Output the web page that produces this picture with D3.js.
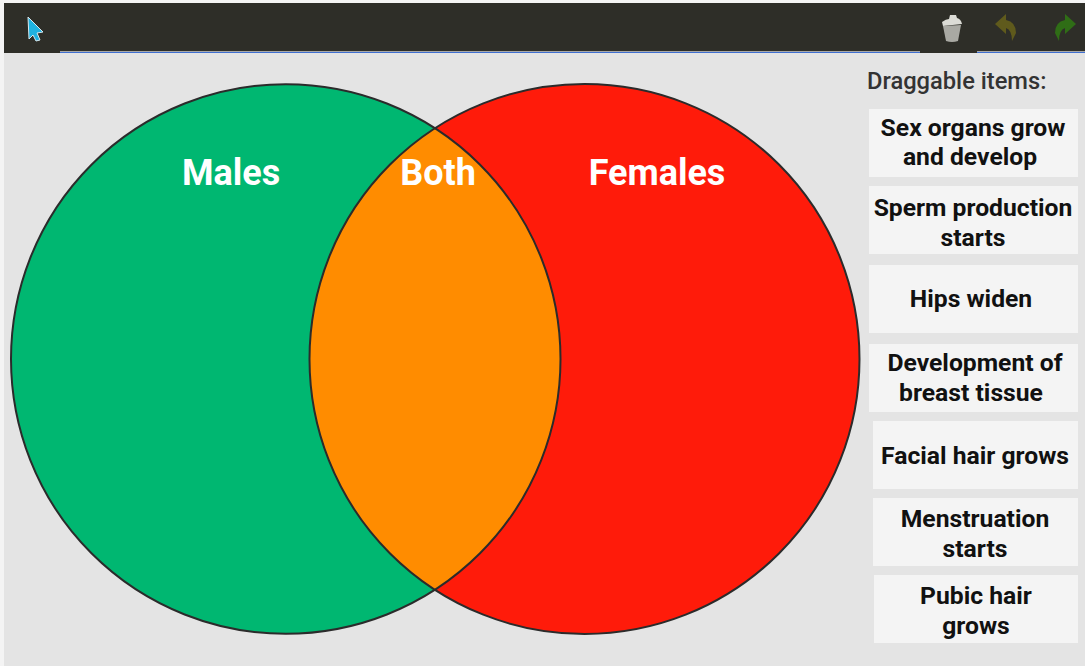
<!DOCTYPE html>
<html>
<head>
<meta charset="utf-8">
<script src="https://cdn.jsdelivr.net/npm/d3@7/dist/d3.min.js"></script>
<style>
    html, body { margin: 0; padding: 0; background: #f4f4f4; overflow: hidden; }
    svg { display: block; font-family: Roboto, sans-serif; }
</style>
</head>
<body>
<svg id="canvas" width="1085" height="666"></svg>
<script>
// Data
const setNames = ['Males', 'Both', 'Females'];
const setColors = ['#00b771', '#ff8c00', '#ff1b0a'];
const itemsTitle = 'Draggable items:';
const itemLabels = [
    ['Sex organs grow', 'and develop'],
    ['Sperm production', 'starts'],
    ['Hips widen'],
    ['Development of', 'breast tissue'],
    ['Facial hair grows'],
    ['Menstruation', 'starts'],
    ['Pubic hair', 'grows']
];

// Layout
const width = 1085;
const height = 666;
const vennTop = 84;
const vennBottom = 634;
const leftCircleX = [11, 560.5];
const rightCircleX = [309.5, 859.5];
const labelX = [231, 438, 657];
const labelY = 185;
const boxLeft = [869, 869, 869, 869, 873, 873, 874];
const boxRight = 1078;
const boxTop = [109, 186, 265, 344, 421, 498, 575];
const boxHeight = 68;
const textCenter = [[973, 970], [973, 973], [971], [975, 971], [975], [975, 975], [976, 976]];
const textBaseline = [[136, 165], [216, 246], [307], [371, 401], [464], [527, 557], [604, 634]];

const canvas = d3.select('#canvas');

// Background and toolbar
canvas.append('rect')
    .attr('x', 4).attr('y', 53)
    .attr('width', width).attr('height', height)
    .attr('fill', '#e4e4e4');

canvas.append('rect')
    .attr('x', 4).attr('y', 3)
    .attr('width', width).attr('height', 50)
    .attr('fill', '#2e2e28');

// Blue line under the toolbar, broken where the tool tabs sit
[[60, 920], [977, 1085]].forEach(([x0, x1]) => {
    canvas.append('line')
        .attr('x1', x0).attr('x2', x1)
        .attr('y1', 52.5).attr('y2', 52.5)
        .attr('stroke', '#3f6fd0')
        .attr('stroke-width', 1.2);
    canvas.append('line')
        .attr('x1', x0).attr('x2', x1)
        .attr('y1', 51.5).attr('y2', 51.5)
        .attr('stroke', '#c8c8c8')
        .attr('stroke-width', 0.8);
});

// Toolbar icons
canvas.append('path')
    .attr('d', 'M28 17 L43 32 L37 33 L40 40 L36 41 L33 35 L29 39 Z')
    .attr('fill', '#1fb2e0')
    .attr('stroke', '#d8e8ee')
    .attr('stroke-width', 1);

canvas.append('path')
    .attr('d', 'M942 22 Q946 19 949 19 L950 15 L956 15 L957 18 Q961 19 962 24 L943 26 Z')
    .attr('fill', '#dcdcd6');
canvas.append('path')
    .attr('d', 'M943 26 L961 25 L958 41 Q952 43 946 41 Z')
    .attr('fill', '#a9a9a3');

canvas.append('path')
    .attr('d', 'M995 24 L1006 14 L1006 20 Q1016 22 1016 33 L1012 41 Q1012 30 1006 28 L1006 34 Z')
    .attr('fill', '#5f5a1c');
canvas.append('path')
    .attr('d', 'M1076 24 L1065 14 L1065 20 Q1055 22 1055 33 L1059 41 Q1059 30 1065 28 L1065 34 Z')
    .attr('fill', '#2f6d16');

// Venn diagram
const yScale = d3.scaleLinear().domain([0, 1]).range([vennTop, vennBottom]);
const cy = yScale(0.5);
const circles = [leftCircleX, rightCircleX].map(([x0, x1]) => ({
    cx: (x0 + x1) / 2,
    r: (x1 - x0) / 2
}));

const venn = canvas.append('g');

venn.selectAll('circle')
    .data(circles)
    .enter()
    .append('circle')
    .attr('cx', d => d.cx)
    .attr('cy', cy)
    .attr('r', d => d.r)
    .attr('fill', (d, i) => setColors[i === 0 ? 0 : 2]);

// Overlap is the left circle clipped by the right one
venn.append('clipPath')
    .attr('id', 'overlap')
    .append('circle')
    .attr('cx', circles[1].cx)
    .attr('cy', cy)
    .attr('r', circles[1].r);

venn.append('circle')
    .attr('cx', circles[0].cx)
    .attr('cy', cy)
    .attr('r', circles[0].r)
    .attr('fill', setColors[1])
    .attr('clip-path', 'url(#overlap)');

venn.selectAll('circle.outline')
    .data(circles)
    .enter()
    .append('circle')
    .attr('class', 'outline')
    .attr('cx', d => d.cx)
    .attr('cy', cy)
    .attr('r', d => d.r)
    .attr('fill', 'none')
    .attr('stroke', '#2b2b2b')
    .attr('stroke-width', 2);

venn.selectAll('text')
    .data(setNames)
    .enter()
    .append('text')
    .attr('x', (d, i) => labelX[i])
    .attr('y', labelY)
    .attr('text-anchor', 'middle')
    .attr('fill', '#fff')
    .attr('font-size', 36)
    .attr('font-weight', 700)
    .text(d => d);

// Draggable items
canvas.append('text')
    .attr('x', 867)
    .attr('y', 89)
    .attr('fill', '#333')
    .attr('font-size', 23.7)
    .attr('font-weight', 500)
    .text(itemsTitle);

const item = canvas.selectAll('g.item')
    .data(itemLabels)
    .enter()
    .append('g')
    .attr('class', 'item');

item.append('rect')
    .attr('x', (d, i) => boxLeft[i])
    .attr('y', (d, i) => boxTop[i])
    .attr('width', (d, i) => boxRight - boxLeft[i])
    .attr('height', boxHeight)
    .attr('fill', '#f4f4f4');

item.each(function (lines, i) {
    d3.select(this).selectAll('text')
        .data(lines)
        .enter()
        .append('text')
        .attr('x', (d, j) => textCenter[i][j])
        .attr('y', (d, j) => textBaseline[i][j])
        .attr('text-anchor', 'middle')
        .attr('fill', '#111')
        .attr('font-size', 24.7)
        .attr('font-weight', 700)
        .text(d => d);
});
</script>
</body>
</html>
